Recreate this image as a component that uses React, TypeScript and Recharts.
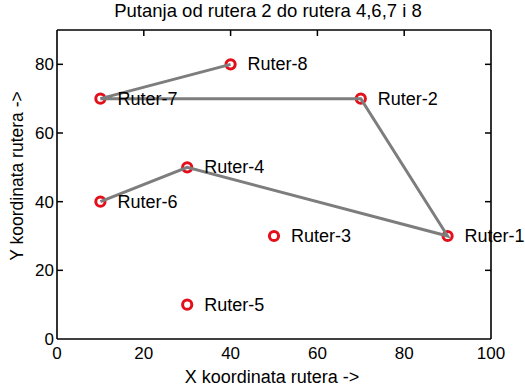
import { ScatterChart, Scatter, XAxis, YAxis, LabelList } from 'recharts'

const routerNames = ['Ruter-1', 'Ruter-2', 'Ruter-3', 'Ruter-4', 'Ruter-5', 'Ruter-6', 'Ruter-7', 'Ruter-8']
const routerX = [90, 70, 50, 30, 30, 10, 10, 40]
const routerY = [30, 70, 30, 50, 10, 40, 70, 80]
// path from router 2 to 4,6,7,8 (router numbers, drawn as one polyline)
const pathOrder = [8, 7, 2, 1, 4, 6]

const xTicks = [0, 20, 40, 60, 80, 100]
const yTicks = [0, 20, 40, 60, 80]

const routers = routerNames.map((name, i) => ({ name, x: routerX[i], y: routerY[i] }))
const path = pathOrder.map((n) => routers[n - 1])

const FONT = 'Arial, "Liberation Sans", Helvetica, sans-serif'

const BottomTick = ({ x, y, payload }: any) => (
  <text x={x} y={y + 20} textAnchor="middle" fontSize={17} fill="#000" fontFamily={FONT}>
    {payload.value}
  </text>
)

const LeftTick = ({ x, y, payload }: any) => (
  <g>
    {payload.value !== 0 && <line x1={x} y1={y} x2={x + 6} y2={y} stroke="#000" strokeWidth={1.5} />}
    <text x={x - 3} y={y + 6} textAnchor="end" fontSize={17} fill="#000" fontFamily={FONT}>
      {payload.value}
    </text>
  </g>
)

const TopTick = ({ x, y, payload }: any) =>
  payload.value === 0 || payload.value === 100 ? (
    <g />
  ) : (
    <line x1={x} y1={y} x2={x} y2={y + 6} stroke="#000" strokeWidth={1.5} />
  )

const RightTick = ({ x, y, payload }: any) =>
  payload.value === 0 ? <g /> : <line x1={x} y1={y} x2={x - 6} y2={y} stroke="#000" strokeWidth={1.5} />

const Marker = ({ cx, cy }: any) => (
  <circle cx={cx} cy={cy} r={4.6} fill="#fff" stroke="#e3101b" strokeWidth={3} />
)

const RouterLabel = ({ x, y, width, height, value }: any) => (
  <text
    x={x + width / 2 + 17}
    y={y + height / 2 + 6}
    fontSize={18}
    fill="#000"
    fontFamily={FONT}
  >
    {value}
  </text>
)

export default function App() {
  return (
    <div style={{ position: 'absolute', left: 0, top: 0, width: 525, height: 388, background: '#fff' }}>
      <ScatterChart width={525} height={388} margin={{ top: 29, right: 33, bottom: 0, left: 0 }}>
        <XAxis
          type="number"
          dataKey="x"
          domain={[0, 100]}
          ticks={xTicks}
          height={49}
          tickSize={0}
          tickMargin={0}
          tickLine={false}
          axisLine={{ stroke: '#000', strokeWidth: 1.6 }}
          tick={<BottomTick />}
        />
        <XAxis
          xAxisId="top"
          orientation="top"
          type="number"
          dataKey="x"
          domain={[0, 100]}
          ticks={xTicks}
          height={1}
          tickSize={0}
          tickMargin={0}
          tickLine={false}
          axisLine={{ stroke: '#000', strokeWidth: 1.6 }}
          tick={<TopTick />}
        />
        <YAxis
          type="number"
          dataKey="y"
          domain={[0, 90]}
          ticks={yTicks}
          width={57}
          tickSize={0}
          tickMargin={0}
          tickLine={false}
          axisLine={{ stroke: '#000', strokeWidth: 1.6 }}
          tick={<LeftTick />}
        />
        <YAxis
          yAxisId="right"
          orientation="right"
          type="number"
          dataKey="y"
          domain={[0, 90]}
          ticks={yTicks}
          width={1}
          tickSize={0}
          tickMargin={0}
          tickLine={false}
          axisLine={{ stroke: '#000', strokeWidth: 1.6 }}
          tick={<RightTick />}
        />
        <Scatter data={routers} shape={<Marker />} isAnimationActive={false}>
          <LabelList dataKey="name" content={<RouterLabel />} />
        </Scatter>
        <Scatter
          data={path}
          xAxisId="top"
          yAxisId="right"
          line={{ stroke: '#7d7d7d', strokeWidth: 3 }}
          lineType="joint"
          shape={() => <g />}
          isAnimationActive={false}
        />
        <text x={268} y={17} textAnchor="middle" fontSize={18.5} fill="#000" fontFamily={FONT}>
          Putanja od rutera 2 do rutera 4,6,7 i 8
        </text>
        <text x={272} y={383} textAnchor="middle" fontSize={18} fill="#000" fontFamily={FONT}>
          X koordinata rutera -&gt;
        </text>
        <text
          x={0}
          y={0}
          transform="translate(23, 176) rotate(-90)"
          textAnchor="middle"
          fontSize={17.5}
          fill="#000"
          fontFamily={FONT}
        >
          Y koordinata rutera -&gt;
        </text>
      </ScatterChart>
    </div>
  )
}
